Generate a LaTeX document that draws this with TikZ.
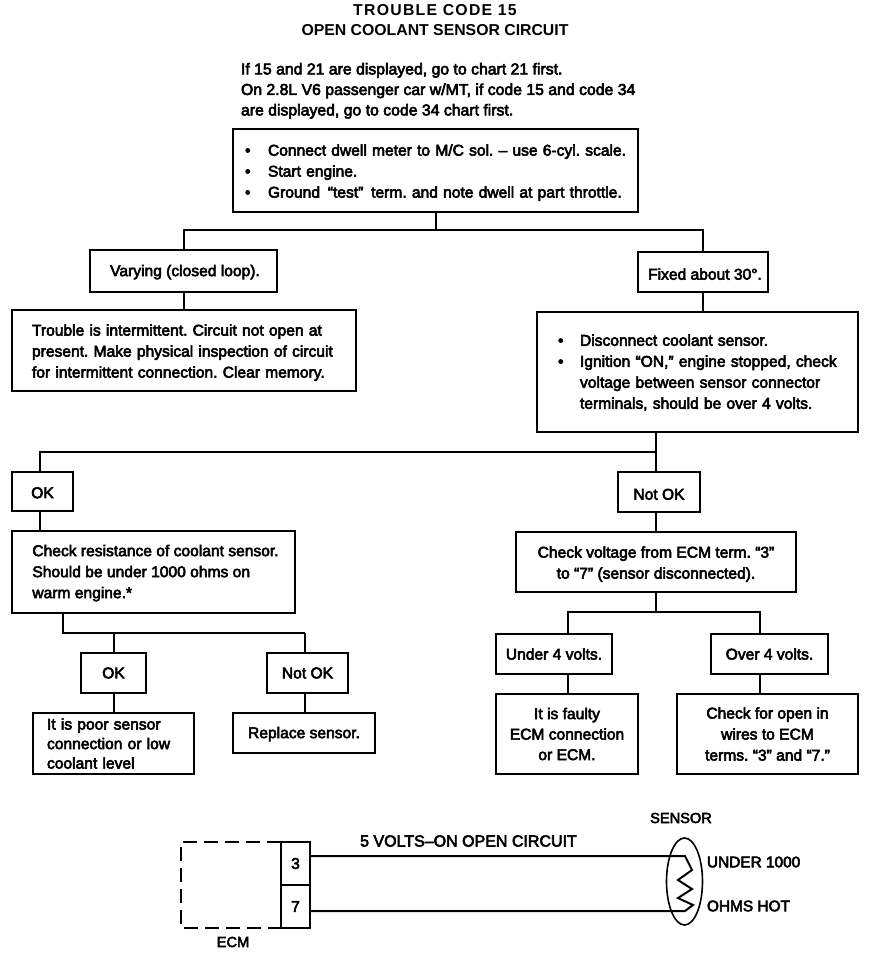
\documentclass[tikz,border=0pt]{standalone}
\usepackage{fontspec}
\usetikzlibrary{shapes.geometric}
\setmainfont{Liberation Sans}[FakeBold=3.5]
\newfontfamily\titlefont{Liberation Sans Bold}
\newfontfamily\titlewide{Liberation Sans Bold}[LetterSpace=8]
\frenchspacing
\tikzset{
 x=1pt,y=-1pt,
 every node/.style={inner sep=0pt,outer sep=0pt,font=\fontsize{15.6pt}{21pt}\selectfont,text=black},
 boxl/.style={draw,line width=2pt,align=left,fill=white},
 boxc/.style={draw,line width=2pt,align=center,fill=white},
 wire/.style={line width=2pt},
 fine/.style={line width=1.2pt},
 lab/.style={font=\fontsize{15.4pt}{15pt}\selectfont,align=center},
 note/.style={align=left,anchor=north west,font=\fontsize{15.8pt}{20.5pt}\selectfont},
}
\newcommand{\bl}[2]{\makebox[#1pt][l]{\textbullet}#2}
\newcommand{\up}[1]{\rule{0pt}{#1pt}}
\begin{document}
\begin{tikzpicture}
\useasboundingbox (0,0) rectangle (880,954);
\node[align=center,font=\titlefont\fontsize{15.8pt}{20pt}\selectfont] (title) at (435,20) {{\titlewide TROUBLE CODE 15}\\OPEN COOLANT SENSOR CIRCUIT};
\node[note] (intro) at (241,63) {If 15 and 21 are displayed, go to chart 21 first.\\On 2.8L V6 passenger car w/MT, if code 15 and code 34\\are displayed, go to code 34 chart first.};
\node[boxl,minimum width=405pt,minimum height=83pt,text width=393pt] (main) at (435.5,170.5) {\up{15.5}\hspace*{6pt}\bl{23}{Connect dwell meter to M/C sol. -- use 6-cyl. scale.}\\\hspace*{6pt}\bl{23}{Start engine.}\\\hspace*{6pt}\bl{23}{Ground \,``test''\, term. and note dwell at part throttle.}};
\node[boxc,minimum width=187pt,minimum height=42pt] (vary) at (183.5,271) {\up{13.5}\hspace*{3pt}Varying (closed loop).};
\node[boxc,minimum width=130pt,minimum height=40pt] (fixed) at (703,272) {\up{15.5}\hspace*{4pt}Fixed about 30\textdegree.};
\node[boxl,minimum width=344pt,minimum height=81pt,text width=304pt] (trouble) at (184,350.5) {\up{15.5}Trouble is intermittent. Circuit not open at\\present. Make physical inspection of circuit\\for intermittent connection. Clear memory.};
\node[boxl,minimum width=321pt,minimum height=120pt,text width=279pt] (disc) at (697.5,372) {\up{12.5}\bl{22}{Disconnect coolant sensor.}\\\bl{22}{Ignition ``ON,'' engine stopped, check}\\\hspace*{22pt}voltage between sensor connector\\\hspace*{22pt}terminals, should be over 4 volts.};
\node[boxc,minimum width=61pt,minimum height=39pt] (ok1) at (42.5,491.5) {\up{13.5}OK};
\node[boxc,minimum width=82pt,minimum height=40pt] (nok1) at (659,492) {\up{15.5}Not OK};
\node[boxl,minimum width=283pt,minimum height=82pt] (resist) at (153.5,572) {\up{13.5}\hspace*{4pt}Check resistance of coolant sensor.\\\hspace*{4pt}Should be under 1000 ohms on\\\hspace*{4pt}warm engine.*};
\node[boxc,minimum width=280pt,minimum height=60pt] (volt) at (656,562) {\up{15.5}Check voltage from ECM term. ``3''\\to ``7'' (sensor disconnected).};
\node[boxc,minimum width=65pt,minimum height=40pt] (ok2) at (113.5,673) {OK};
\node[boxc,minimum width=81pt,minimum height=40pt] (nok2) at (307.5,673) {Not OK};
\node[boxc,minimum width=116pt,minimum height=40pt] (under) at (554,654) {Under 4 volts.};
\node[boxc,minimum width=117pt,minimum height=40pt] (over) at (769.5,654) {Over 4 volts.};
\node[boxl,minimum width=161pt,minimum height=61pt,text width=133pt,font=\fontsize{15.6pt}{19.5pt}\selectfont] (poor) at (113.5,743.5) {It is poor sensor\\connection or low\\coolant level};
\node[boxc,minimum width=142pt,minimum height=40pt] (repl) at (304,733) {\up{13.5}Replace sensor.};
\node[boxc,minimum width=142pt,minimum height=80pt,font=\fontsize{15.6pt}{20.5pt}\selectfont] (faulty) at (567,734) {It is faulty\\ECM connection\\or ECM.};
\node[boxc,minimum width=181pt,minimum height=80pt] (open) at (767.5,734) {Check for open in\\wires to ECM\\terms. ``3'' and ``7.''};
% connectors
\coordinate (ja) at (436,230);
\coordinate (jb) at (656,452);
\coordinate (jc) at (63,633);
\coordinate (jd) at (656,612);
\coordinate (xok1) at (40,452);
\coordinate (xnok2) at (305,633);
\coordinate (xunder) at (568,612);
\coordinate (xover) at (760,612);
\draw[wire] (main.south -| ja) -- (ja);
\draw[wire] (vary.north) |- (ja) -| (fixed.north);
\draw[wire] (vary.south) -- (vary.south |- trouble.north);
\draw[wire] (fixed.south) -- (fixed.south |- disc.north);
\draw[wire] (disc.south -| jb) -- (jb);
\draw[wire] (xok1 |- ok1.north) -- (xok1) -- (jb);
\draw[fine] (jb) -- (jb |- nok1.north);
\draw[wire] (xok1 |- ok1.south) -- (xok1 |- resist.north);
\draw[wire] (jb |- nok1.south) -- (jb |- volt.north);
\draw[wire] (resist.south -| jc) -- (jc) -- (xnok2);
\draw[wire] (ok2.north) -- (ok2.north |- jc);
\draw[wire] (xnok2) -- (xnok2 |- nok2.north);
\draw[wire] (ok2.south) -- (ok2.south |- poor.north);
\draw[wire] (xnok2 |- nok2.south) -- (xnok2 |- repl.north);
\draw[fine] (volt.south -| jd) -- (jd);
\draw[wire] (xunder |- under.north) -- (xunder) -- (xover) -- (xover |- over.north);
\draw[wire] (xunder |- under.south) -- (xunder |- faulty.north);
\draw[wire] (xover |- over.south) -- (xover |- open.north);
% circuit
\node[draw,line width=2pt,minimum width=29pt,minimum height=43pt] (p3) at (295.5,863.5) {3};
\node[draw,line width=2pt,minimum width=29pt,minimum height=43pt] (p7) at (295.5,906.5) {7};
\draw[line width=2pt,dash pattern=on 14pt off 7pt] (p3.north west) -- (181,842) -- (181,928) -- (p7.south west);
\node[draw,line width=1.6pt,ellipse,minimum width=36pt,minimum height=87pt] (sens) at (684.5,881.5) {};
\coordinate (w3) at (685,856);
\coordinate (w7) at (685,911);
\draw[wire] (p3.east |- w3) -- (w3) -- (692,870) -- (678,880) -- (692,889) -- (678,898) -- (693,905) -- (w7) -- (p7.east |- w7);
\node[lab,font=\fontsize{16pt}{15pt}\selectfont] (volts) at (468.5,841) {5 VOLTS--ON OPEN CIRCUIT};
\node[lab,font=\fontsize{14.6pt}{15pt}\selectfont] (senslab) at (681,818) {SENSOR};
\node[lab,anchor=west] (u1000) at (707,862) {UNDER 1000};
\node[lab,anchor=west] (ohms) at (707,906) {OHMS HOT};
\node[lab,font=\fontsize{14.6pt}{15pt}\selectfont] (ecm) at (233,942) {ECM};
\end{tikzpicture}
\end{document}
